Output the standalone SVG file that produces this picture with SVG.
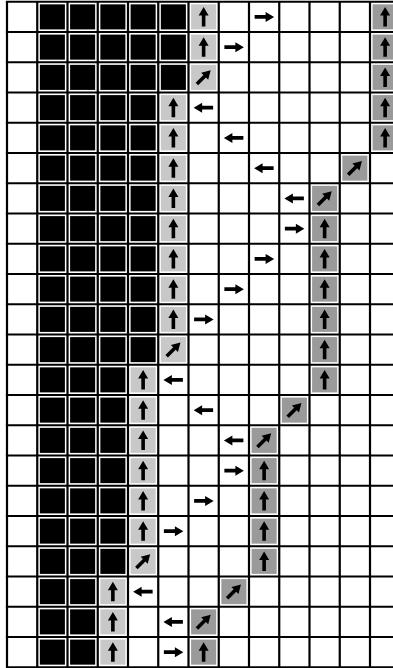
<svg xmlns="http://www.w3.org/2000/svg" xmlns:xlink="http://www.w3.org/1999/xlink" width="393" height="668" viewBox="0 0 393 668">
<style>
.b{fill:#000}.l{fill:#c8c8c8}.d{fill:#9a9a9a}
.grid{stroke:#000;stroke-width:2.2;fill:none}
</style>
<defs>
<rect id="sq" x="2.6" y="2.6" width="25.05" height="25.05"/>
<path id="ar" d="M0,-10 L5,-1.5 L1.8,-1.5 L1.8,9.5 L-1.8,9.5 L-1.8,-1.5 L-5,-1.5 Z" fill="#000"/>
<use id="U" href="#ar" transform="translate(15.125,15.125)"/>
<use id="R" href="#ar" transform="translate(15.125,15.125) rotate(90)"/>
<use id="L" href="#ar" transform="translate(15.125,15.125) rotate(-90)"/>
<use id="N" href="#ar" transform="translate(15.125,15.125) rotate(45)"/>
</defs>
<rect width="393" height="668" fill="#fff"/>
<!-- row 0 -->
<g id="r0c1" transform="translate(37.25,1.75)"><use href="#sq" class="b"/></g>
<g id="r0c2" transform="translate(67.5,1.75)"><use href="#sq" class="b"/></g>
<g id="r0c3" transform="translate(97.75,1.75)"><use href="#sq" class="b"/></g>
<g id="r0c4" transform="translate(128,1.75)"><use href="#sq" class="b"/></g>
<g id="r0c5" transform="translate(158.25,1.75)"><use href="#sq" class="b"/></g>
<g id="r0c6" transform="translate(188.5,1.75)"><use href="#sq" class="l"/><use href="#U"/></g>
<g id="r0c8" transform="translate(249,1.75)"><use href="#R"/></g>
<g id="r0c12" transform="translate(370,1.75)"><use href="#sq" class="d"/><use href="#U"/></g>
<!-- row 1 -->
<g id="r1c1" transform="translate(37.25,32)"><use href="#sq" class="b"/></g>
<g id="r1c2" transform="translate(67.5,32)"><use href="#sq" class="b"/></g>
<g id="r1c3" transform="translate(97.75,32)"><use href="#sq" class="b"/></g>
<g id="r1c4" transform="translate(128,32)"><use href="#sq" class="b"/></g>
<g id="r1c5" transform="translate(158.25,32)"><use href="#sq" class="b"/></g>
<g id="r1c6" transform="translate(188.5,32)"><use href="#sq" class="l"/><use href="#U"/></g>
<g id="r1c7" transform="translate(218.75,32)"><use href="#R"/></g>
<g id="r1c12" transform="translate(370,32)"><use href="#sq" class="d"/><use href="#U"/></g>
<!-- row 2 -->
<g id="r2c1" transform="translate(37.25,62.25)"><use href="#sq" class="b"/></g>
<g id="r2c2" transform="translate(67.5,62.25)"><use href="#sq" class="b"/></g>
<g id="r2c3" transform="translate(97.75,62.25)"><use href="#sq" class="b"/></g>
<g id="r2c4" transform="translate(128,62.25)"><use href="#sq" class="b"/></g>
<g id="r2c5" transform="translate(158.25,62.25)"><use href="#sq" class="b"/></g>
<g id="r2c6" transform="translate(188.5,62.25)"><use href="#sq" class="l"/><use href="#N"/></g>
<g id="r2c12" transform="translate(370,62.25)"><use href="#sq" class="d"/><use href="#U"/></g>
<!-- row 3 -->
<g id="r3c1" transform="translate(37.25,92.5)"><use href="#sq" class="b"/></g>
<g id="r3c2" transform="translate(67.5,92.5)"><use href="#sq" class="b"/></g>
<g id="r3c3" transform="translate(97.75,92.5)"><use href="#sq" class="b"/></g>
<g id="r3c4" transform="translate(128,92.5)"><use href="#sq" class="b"/></g>
<g id="r3c5" transform="translate(158.25,92.5)"><use href="#sq" class="l"/><use href="#U"/></g>
<g id="r3c6" transform="translate(188.5,92.5)"><use href="#L"/></g>
<g id="r3c12" transform="translate(370,92.5)"><use href="#sq" class="d"/><use href="#U"/></g>
<!-- row 4 -->
<g id="r4c1" transform="translate(37.25,122.75)"><use href="#sq" class="b"/></g>
<g id="r4c2" transform="translate(67.5,122.75)"><use href="#sq" class="b"/></g>
<g id="r4c3" transform="translate(97.75,122.75)"><use href="#sq" class="b"/></g>
<g id="r4c4" transform="translate(128,122.75)"><use href="#sq" class="b"/></g>
<g id="r4c5" transform="translate(158.25,122.75)"><use href="#sq" class="l"/><use href="#U"/></g>
<g id="r4c7" transform="translate(218.75,122.75)"><use href="#L"/></g>
<g id="r4c12" transform="translate(370,122.75)"><use href="#sq" class="d"/><use href="#U"/></g>
<!-- row 5 -->
<g id="r5c1" transform="translate(37.25,153)"><use href="#sq" class="b"/></g>
<g id="r5c2" transform="translate(67.5,153)"><use href="#sq" class="b"/></g>
<g id="r5c3" transform="translate(97.75,153)"><use href="#sq" class="b"/></g>
<g id="r5c4" transform="translate(128,153)"><use href="#sq" class="b"/></g>
<g id="r5c5" transform="translate(158.25,153)"><use href="#sq" class="l"/><use href="#U"/></g>
<g id="r5c8" transform="translate(249,153)"><use href="#L"/></g>
<g id="r5c11" transform="translate(339.75,153)"><use href="#sq" class="d"/><use href="#N"/></g>
<!-- row 6 -->
<g id="r6c1" transform="translate(37.25,183.25)"><use href="#sq" class="b"/></g>
<g id="r6c2" transform="translate(67.5,183.25)"><use href="#sq" class="b"/></g>
<g id="r6c3" transform="translate(97.75,183.25)"><use href="#sq" class="b"/></g>
<g id="r6c4" transform="translate(128,183.25)"><use href="#sq" class="b"/></g>
<g id="r6c5" transform="translate(158.25,183.25)"><use href="#sq" class="l"/><use href="#U"/></g>
<g id="r6c9" transform="translate(279.25,183.25)"><use href="#L"/></g>
<g id="r6c10" transform="translate(309.5,183.25)"><use href="#sq" class="d"/><use href="#N"/></g>
<!-- row 7 -->
<g id="r7c1" transform="translate(37.25,213.5)"><use href="#sq" class="b"/></g>
<g id="r7c2" transform="translate(67.5,213.5)"><use href="#sq" class="b"/></g>
<g id="r7c3" transform="translate(97.75,213.5)"><use href="#sq" class="b"/></g>
<g id="r7c4" transform="translate(128,213.5)"><use href="#sq" class="b"/></g>
<g id="r7c5" transform="translate(158.25,213.5)"><use href="#sq" class="l"/><use href="#U"/></g>
<g id="r7c9" transform="translate(279.25,213.5)"><use href="#R"/></g>
<g id="r7c10" transform="translate(309.5,213.5)"><use href="#sq" class="d"/><use href="#U"/></g>
<!-- row 8 -->
<g id="r8c1" transform="translate(37.25,243.75)"><use href="#sq" class="b"/></g>
<g id="r8c2" transform="translate(67.5,243.75)"><use href="#sq" class="b"/></g>
<g id="r8c3" transform="translate(97.75,243.75)"><use href="#sq" class="b"/></g>
<g id="r8c4" transform="translate(128,243.75)"><use href="#sq" class="b"/></g>
<g id="r8c5" transform="translate(158.25,243.75)"><use href="#sq" class="l"/><use href="#U"/></g>
<g id="r8c8" transform="translate(249,243.75)"><use href="#R"/></g>
<g id="r8c10" transform="translate(309.5,243.75)"><use href="#sq" class="d"/><use href="#U"/></g>
<!-- row 9 -->
<g id="r9c1" transform="translate(37.25,274)"><use href="#sq" class="b"/></g>
<g id="r9c2" transform="translate(67.5,274)"><use href="#sq" class="b"/></g>
<g id="r9c3" transform="translate(97.75,274)"><use href="#sq" class="b"/></g>
<g id="r9c4" transform="translate(128,274)"><use href="#sq" class="b"/></g>
<g id="r9c5" transform="translate(158.25,274)"><use href="#sq" class="l"/><use href="#U"/></g>
<g id="r9c7" transform="translate(218.75,274)"><use href="#R"/></g>
<g id="r9c10" transform="translate(309.5,274)"><use href="#sq" class="d"/><use href="#U"/></g>
<!-- row 10 -->
<g id="r10c1" transform="translate(37.25,304.25)"><use href="#sq" class="b"/></g>
<g id="r10c2" transform="translate(67.5,304.25)"><use href="#sq" class="b"/></g>
<g id="r10c3" transform="translate(97.75,304.25)"><use href="#sq" class="b"/></g>
<g id="r10c4" transform="translate(128,304.25)"><use href="#sq" class="b"/></g>
<g id="r10c5" transform="translate(158.25,304.25)"><use href="#sq" class="l"/><use href="#U"/></g>
<g id="r10c6" transform="translate(188.5,304.25)"><use href="#R"/></g>
<g id="r10c10" transform="translate(309.5,304.25)"><use href="#sq" class="d"/><use href="#U"/></g>
<!-- row 11 -->
<g id="r11c1" transform="translate(37.25,334.5)"><use href="#sq" class="b"/></g>
<g id="r11c2" transform="translate(67.5,334.5)"><use href="#sq" class="b"/></g>
<g id="r11c3" transform="translate(97.75,334.5)"><use href="#sq" class="b"/></g>
<g id="r11c4" transform="translate(128,334.5)"><use href="#sq" class="b"/></g>
<g id="r11c5" transform="translate(158.25,334.5)"><use href="#sq" class="l"/><use href="#N"/></g>
<g id="r11c10" transform="translate(309.5,334.5)"><use href="#sq" class="d"/><use href="#U"/></g>
<!-- row 12 -->
<g id="r12c1" transform="translate(37.25,364.75)"><use href="#sq" class="b"/></g>
<g id="r12c2" transform="translate(67.5,364.75)"><use href="#sq" class="b"/></g>
<g id="r12c3" transform="translate(97.75,364.75)"><use href="#sq" class="b"/></g>
<g id="r12c4" transform="translate(128,364.75)"><use href="#sq" class="l"/><use href="#U"/></g>
<g id="r12c5" transform="translate(158.25,364.75)"><use href="#L"/></g>
<g id="r12c10" transform="translate(309.5,364.75)"><use href="#sq" class="d"/><use href="#U"/></g>
<!-- row 13 -->
<g id="r13c1" transform="translate(37.25,395)"><use href="#sq" class="b"/></g>
<g id="r13c2" transform="translate(67.5,395)"><use href="#sq" class="b"/></g>
<g id="r13c3" transform="translate(97.75,395)"><use href="#sq" class="b"/></g>
<g id="r13c4" transform="translate(128,395)"><use href="#sq" class="l"/><use href="#U"/></g>
<g id="r13c6" transform="translate(188.5,395)"><use href="#L"/></g>
<g id="r13c9" transform="translate(279.25,395)"><use href="#sq" class="d"/><use href="#N"/></g>
<!-- row 14 -->
<g id="r14c1" transform="translate(37.25,425.25)"><use href="#sq" class="b"/></g>
<g id="r14c2" transform="translate(67.5,425.25)"><use href="#sq" class="b"/></g>
<g id="r14c3" transform="translate(97.75,425.25)"><use href="#sq" class="b"/></g>
<g id="r14c4" transform="translate(128,425.25)"><use href="#sq" class="l"/><use href="#U"/></g>
<g id="r14c7" transform="translate(218.75,425.25)"><use href="#L"/></g>
<g id="r14c8" transform="translate(249,425.25)"><use href="#sq" class="d"/><use href="#N"/></g>
<!-- row 15 -->
<g id="r15c1" transform="translate(37.25,455.5)"><use href="#sq" class="b"/></g>
<g id="r15c2" transform="translate(67.5,455.5)"><use href="#sq" class="b"/></g>
<g id="r15c3" transform="translate(97.75,455.5)"><use href="#sq" class="b"/></g>
<g id="r15c4" transform="translate(128,455.5)"><use href="#sq" class="l"/><use href="#U"/></g>
<g id="r15c7" transform="translate(218.75,455.5)"><use href="#R"/></g>
<g id="r15c8" transform="translate(249,455.5)"><use href="#sq" class="d"/><use href="#U"/></g>
<!-- row 16 -->
<g id="r16c1" transform="translate(37.25,485.75)"><use href="#sq" class="b"/></g>
<g id="r16c2" transform="translate(67.5,485.75)"><use href="#sq" class="b"/></g>
<g id="r16c3" transform="translate(97.75,485.75)"><use href="#sq" class="b"/></g>
<g id="r16c4" transform="translate(128,485.75)"><use href="#sq" class="l"/><use href="#U"/></g>
<g id="r16c6" transform="translate(188.5,485.75)"><use href="#R"/></g>
<g id="r16c8" transform="translate(249,485.75)"><use href="#sq" class="d"/><use href="#U"/></g>
<!-- row 17 -->
<g id="r17c1" transform="translate(37.25,516)"><use href="#sq" class="b"/></g>
<g id="r17c2" transform="translate(67.5,516)"><use href="#sq" class="b"/></g>
<g id="r17c3" transform="translate(97.75,516)"><use href="#sq" class="b"/></g>
<g id="r17c4" transform="translate(128,516)"><use href="#sq" class="l"/><use href="#U"/></g>
<g id="r17c5" transform="translate(158.25,516)"><use href="#R"/></g>
<g id="r17c8" transform="translate(249,516)"><use href="#sq" class="d"/><use href="#U"/></g>
<!-- row 18 -->
<g id="r18c1" transform="translate(37.25,546.25)"><use href="#sq" class="b"/></g>
<g id="r18c2" transform="translate(67.5,546.25)"><use href="#sq" class="b"/></g>
<g id="r18c3" transform="translate(97.75,546.25)"><use href="#sq" class="b"/></g>
<g id="r18c4" transform="translate(128,546.25)"><use href="#sq" class="l"/><use href="#N"/></g>
<g id="r18c8" transform="translate(249,546.25)"><use href="#sq" class="d"/><use href="#U"/></g>
<!-- row 19 -->
<g id="r19c1" transform="translate(37.25,576.5)"><use href="#sq" class="b"/></g>
<g id="r19c2" transform="translate(67.5,576.5)"><use href="#sq" class="b"/></g>
<g id="r19c3" transform="translate(97.75,576.5)"><use href="#sq" class="l"/><use href="#U"/></g>
<g id="r19c4" transform="translate(128,576.5)"><use href="#L"/></g>
<g id="r19c7" transform="translate(218.75,576.5)"><use href="#sq" class="d"/><use href="#N"/></g>
<!-- row 20 -->
<g id="r20c1" transform="translate(37.25,606.75)"><use href="#sq" class="b"/></g>
<g id="r20c2" transform="translate(67.5,606.75)"><use href="#sq" class="b"/></g>
<g id="r20c3" transform="translate(97.75,606.75)"><use href="#sq" class="l"/><use href="#U"/></g>
<g id="r20c5" transform="translate(158.25,606.75)"><use href="#L"/></g>
<g id="r20c6" transform="translate(188.5,606.75)"><use href="#sq" class="d"/><use href="#N"/></g>
<!-- row 21 -->
<g id="r21c1" transform="translate(37.25,637)"><use href="#sq" class="b"/></g>
<g id="r21c2" transform="translate(67.5,637)"><use href="#sq" class="b"/></g>
<g id="r21c3" transform="translate(97.75,637)"><use href="#sq" class="l"/><use href="#U"/></g>
<g id="r21c5" transform="translate(158.25,637)"><use href="#R"/></g>
<g id="r21c6" transform="translate(188.5,637)"><use href="#sq" class="d"/><use href="#U"/></g>
<g id="grid" class="grid">
<path d="M7,1.75V667.25M37.25,1.75V667.25M67.5,1.75V667.25M97.75,1.75V667.25M128,1.75V667.25M158.25,1.75V667.25M188.5,1.75V667.25M218.75,1.75V667.25M249,1.75V667.25M279.25,1.75V667.25M309.5,1.75V667.25M339.75,1.75V667.25M370,1.75V667.25"/>
<path d="M5.9,1.75H393M5.9,32H393M5.9,62.25H393M5.9,92.5H393M5.9,122.75H393M5.9,153H393M5.9,183.25H393M5.9,213.5H393M5.9,243.75H393M5.9,274H393M5.9,304.25H393M5.9,334.5H393M5.9,364.75H393M5.9,395H393M5.9,425.25H393M5.9,455.5H393M5.9,485.75H393M5.9,516H393M5.9,546.25H393M5.9,576.5H393M5.9,606.75H393M5.9,637H393M5.9,667.25H393"/>
</g>
</svg>
